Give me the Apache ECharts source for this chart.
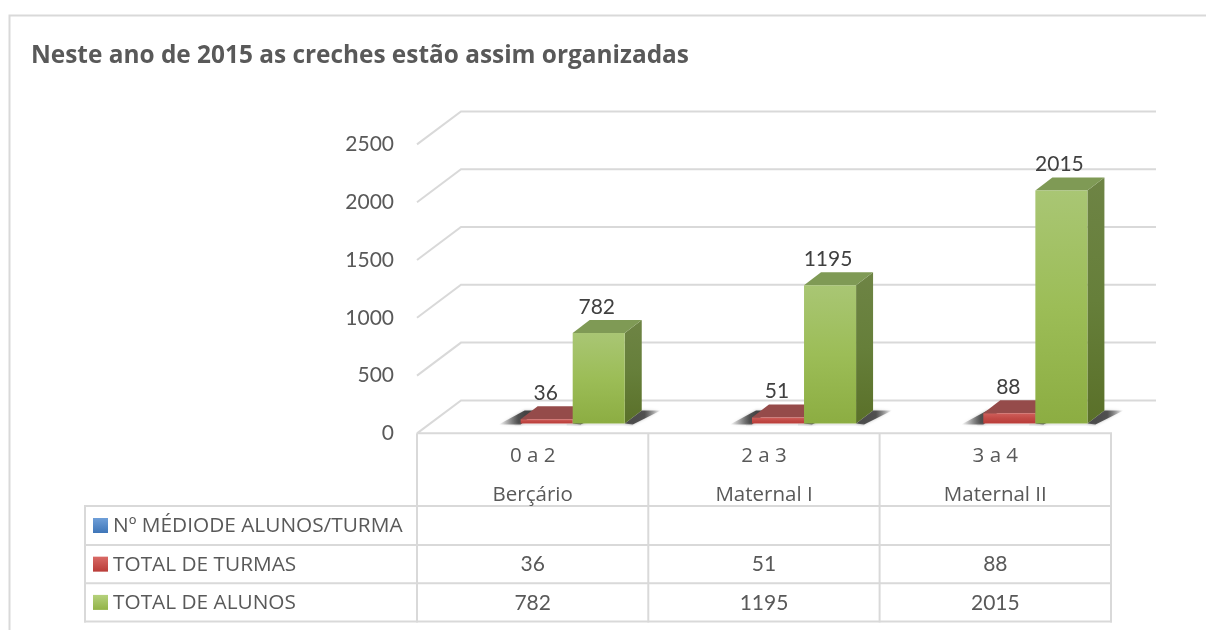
<!DOCTYPE html>
<html><head><meta charset="utf-8">
<style>html,body{margin:0;padding:0;background:#fff}#c{width:1206px;height:630px}</style>
<script src="https://cdn.jsdelivr.net/npm/echarts@6/dist/echarts.min.js"></script>
</head><body><div id="c"></div>
<script>
const titleText = 'Neste ano de 2015 as creches estão assim organizadas';
const ages = ['0 a 2', '2 a 3', '3 a 4'];
const groups = ['Berçário', 'Maternal I', 'Maternal II'];
const yTicks = [0, 500, 1000, 1500, 2000, 2500];
const avgStudents = [null, null, null];
const totalClasses = [36, 51, 88];
const totalStudents = [782, 1195, 2015];
const rowNames = ['Nº MÉDIODE ALUNOS/TURMA', 'TOTAL DE TURMAS', 'TOTAL DE ALUNOS'];

const FONT = '"Open Sans"';
const NUM = 'Lato';
const GRID = '#d9d9d9';
const TXT = '#595959';
const WALL_DX = 44, WALL_DY = 33, BACK_EXT = 45;
const FLOOR_DX = 14, FLOOR_DY = 10, BAR_DX = 17, BAR_DY = 13, BAR_FRAC = 0.225;
const rows = [
  {top: 506, bottom: 545, values: avgStudents, color: ['#6f9fd8', '#3f76b8']},
  {top: 545, bottom: 583.3, values: totalClasses, color: ['#d96a66', '#b93c38']},
  {top: 583.3, bottom: 621.5, values: totalStudents, color: ['#b5d17c', '#92b347']}
];
const v = (a, b, c) => ({type: 'linear', x: 0, y: 0, x2: 0, y2: 1, colorStops: [{offset: 0, color: a}, {offset: .5, color: b}, {offset: 1, color: c}]});
const hs = stops => ({type: 'linear', x: 0, y: 0, x2: 1, y2: 0, colorStops: stops.map(s => ({offset: s[0], color: 'rgba(60,60,60,' + s[1] + ')'}))});

function line(pts, w) {
  return {type: 'polyline', shape: {points: pts}, style: {stroke: GRID, lineWidth: w || 2, fill: 'none'}, silent: true};
}
function poly(pts, fill) {
  return {type: 'polygon', shape: {points: pts}, style: {fill: fill}, silent: true};
}
function soft(pts, fill) {
  return {type: 'polygon', shape: {points: pts}, style: {fill: fill, shadowBlur: 3, shadowColor: 'rgba(90,90,90,0.45)'}, silent: true};
}

function renderWall(params, api) {
  const p = api.coord([0, api.value(0)]);
  const cs = params.coordSys;
  const x0 = cs.x, y = p[1];
  return {type: 'group', children: [line([[x0, y], [x0 + WALL_DX, y - WALL_DY], [cs.x + cs.width + BACK_EXT, y - WALL_DY]])]};
}

function barRenderer(seriesIdx, c) {
  return function (params, api) {
    const i = api.value(0), val = api.value(1);
    const band = api.size([1, 0])[0];
    const w = band * BAR_FRAC;
    const c0 = api.coord([i, 0]), c1 = api.coord([i, val]);
    const x1 = c0[0] + FLOOR_DX - 1.5 * w + seriesIdx * w;
    const x2 = x1 + w;
    const base = c0[1] - FLOOR_DY;
    const top = c1[1] - FLOOR_DY;
    const kids = [];
    kids.push(soft([[x2, base], [x2 + BAR_DX, base - BAR_DY], [x2 + BAR_DX + 19, base - BAR_DY], [x2 + 8, base + 1]],
      hs([[0, 0.9], [0.55, 0.85], [0.8, 0.4], [1, 0]])));
    if (seriesIdx === 1) {
      kids.push(soft([[x1 - 22, base + 1], [x1, base + 1], [x1 + BAR_DX, base - BAR_DY], [x1 + 4, base - BAR_DY]],
        hs([[0, 0], [0.25, 0.4], [0.5, 0.85], [0.7, 0.95], [1, 0.95]])));
    }
    kids.push({type: 'rect', shape: {x: x1 - 6, y: base, width: w + 14, height: 2}, style: {fill: 'rgba(150,150,150,0.2)'}, silent: true});
    kids.push(poly([[x2, base], [x2 + BAR_DX, base - BAR_DY], [x2 + BAR_DX, top - BAR_DY], [x2, top]], v(c.side[0], c.side[1], c.side[2])));
    kids.push(poly([[x1, top], [x2, top], [x2 + BAR_DX, top - BAR_DY], [x1 + BAR_DX, top - BAR_DY]], c.top));
    kids.push({type: 'rect', shape: {x: x1, y: top, width: w, height: base - top}, style: {fill: v(c.front[0], c.front[1], c.front[2])}, silent: true});
    kids.push({type: 'text', silent: true, style: {
      text: String(val), x: x1 + w / 2 + (seriesIdx === 2 ? -2 : -1), y: top - BAR_DY - 13,
      align: 'center', verticalAlign: 'middle', font: '21px ' + NUM, fill: '#404040'}});
    return {type: 'group', children: kids};
  };
}

function tableRenderer(row) {
  return function (params, api) {
    const p = api.coord([api.value(0), 0]);
    return {type: 'text', silent: true, style: {text: String(api.value(1)), x: p[0], y: (row.top + row.bottom) / 2 + 0.5,
      align: 'center', verticalAlign: 'middle', font: '21px ' + NUM, fill: TXT}};
  };
}

const pairs = a => a.map((d, i) => [i, d]);
const base = {type: 'custom', silent: true, animation: false};

const graphicEls = [
  {type: 'polyline', shape: {points: [[9.5, 630], [9.5, 15.5], [1206, 15.5]]}, style: {stroke: GRID, lineWidth: 2, fill: 'none'}, silent: true},
  {type: 'text', silent: true, style: {text: titleText, x: 31, y: 56, verticalAlign: 'middle', font: 'bold 24.4px ' + FONT, fill: TXT}}
];
const tableX = [417, 648.3, 879.6, 1111];
tableX.forEach(x => graphicEls.push({type: 'line', silent: true, shape: {x1: x, y1: 433.3, x2: x, y2: 622.5}, style: {stroke: GRID, lineWidth: 2}}));
graphicEls.push({type: 'line', silent: true, shape: {x1: 417, y1: 433.3, x2: 1112, y2: 433.3}, style: {stroke: GRID, lineWidth: 2}});
graphicEls.push({type: 'line', silent: true, shape: {x1: 85, y1: 506, x2: 85, y2: 622.5}, style: {stroke: GRID, lineWidth: 2}});
rows.forEach((r, i) => {
  graphicEls.push({type: 'line', silent: true, shape: {x1: 84, y1: r.top, x2: 1112, y2: r.top}, style: {stroke: GRID, lineWidth: 2}});
  graphicEls.push({type: 'rect', silent: true, shape: {x: 93, y: (r.top + r.bottom) / 2 - 7.5, width: 15, height: 15}, style: {fill: {type: 'linear', x: 0, y: 0, x2: 0, y2: 1, colorStops: [{offset: 0, color: r.color[0]}, {offset: 1, color: r.color[1]}]}}});
  graphicEls.push({type: 'text', silent: true, style: {text: rowNames[i], x: 113, y: (r.top + r.bottom) / 2 + 0.5, verticalAlign: 'middle', font: '20.8px ' + FONT, fill: TXT}});
});
graphicEls.push({type: 'line', silent: true, shape: {x1: 84, y1: 621.5, x2: 1112, y2: 621.5}, style: {stroke: GRID, lineWidth: 2}});

const option = {
  animation: false,
  backgroundColor: '#ffffff',
  textStyle: {fontFamily: FONT},
  grid: {left: 417, top: 144.4, width: 694, height: 289, containLabel: false},
  xAxis: {type: 'category', data: ages.map((a, i) => a + '\n' + groups[i]),
    axisLine: {show: false}, axisTick: {show: false}, splitLine: {show: false},
    axisLabel: {margin: 3, fontFamily: FONT, fontSize: 20.5, color: TXT, lineHeight: 39}},
  yAxis: {type: 'value', min: yTicks[0], max: yTicks[yTicks.length - 1], interval: yTicks[1] - yTicks[0],
    axisLine: {show: false}, axisTick: {show: false}, splitLine: {show: false},
    axisLabel: {margin: 23, fontFamily: NUM, fontSize: 21, color: TXT, padding: [3, 0, 0, 0], formatter: value => String(value)}},
  graphic: {elements: graphicEls},
  series: [
    Object.assign({}, base, {name: 'wall', data: yTicks.map(t => [t]), encode: {y: 0}, renderItem: renderWall, z: 1}),
    Object.assign({}, base, {name: rowNames[1], data: pairs(totalClasses), renderItem: barRenderer(1, {
      front: ['#cf5f5b', '#c24a46', '#b93c38'], side: ['#8a3735', '#7f302e', '#752b29'], top: '#954b4a'}), z: 2}),
    Object.assign({}, base, {name: rowNames[2], data: pairs(totalStudents), renderItem: barRenderer(2, {
      front: ['#a9c674', '#9cbd57', '#8cad42'], side: ['#6e8445', '#667f3a', '#5a7029'], top: '#7f9a55'}), z: 3}),
    Object.assign({}, base, {name: 'tbl1', data: pairs(totalClasses), renderItem: tableRenderer(rows[1]), z: 4}),
    Object.assign({}, base, {name: 'tbl2', data: pairs(totalStudents), renderItem: tableRenderer(rows[2]), z: 4})
  ]
};
const chart = echarts.init(document.getElementById('c'), null, {renderer: 'canvas'});
chart.setOption(option);
</script></body></html>
